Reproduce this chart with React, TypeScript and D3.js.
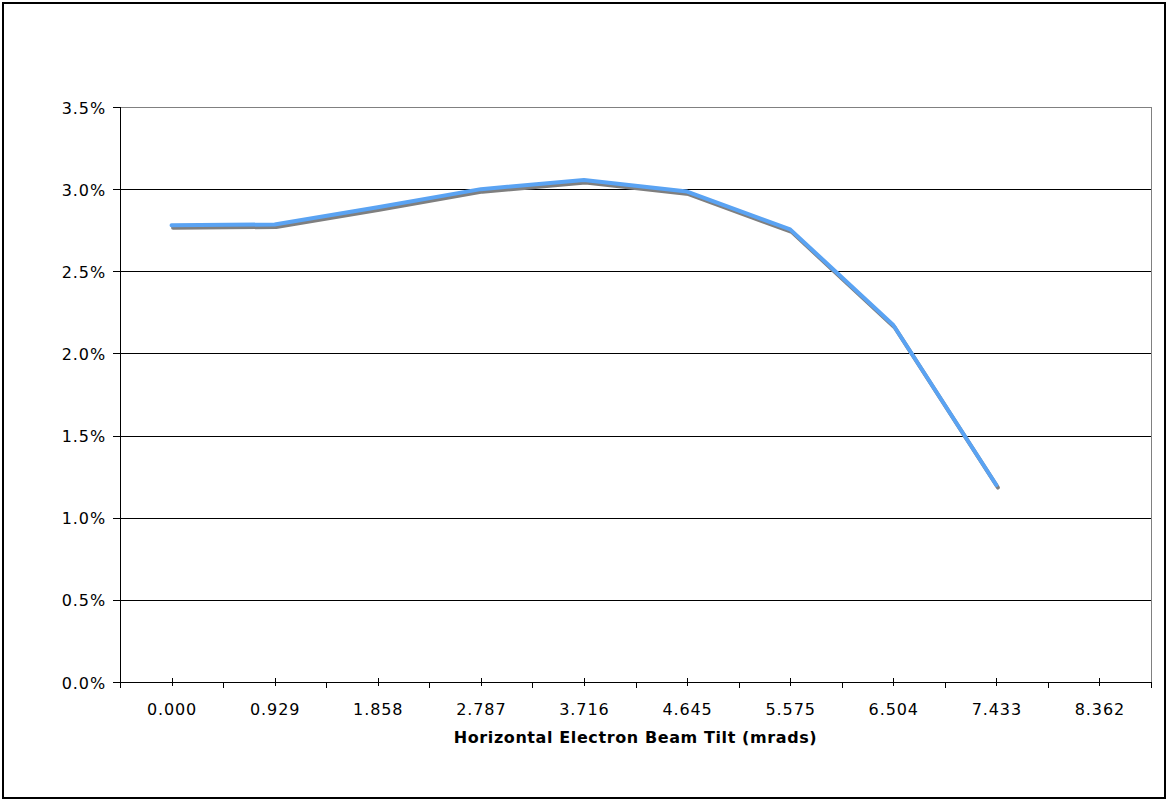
import React from "react";
import * as d3 from "d3";

const categories = ["0.000", "0.929", "1.858", "2.787", "3.716", "4.645", "5.575", "6.504", "7.433", "8.362"];
const values: (number | null)[] = [2.78, 2.785, 2.89, 3.0, 3.055, 2.985, 2.755, 2.173, 1.199, null];
const yTicks = [0, 0.5, 1.0, 1.5, 2.0, 2.5, 3.0, 3.5];
const xTitle = "Horizontal Electron Beam Tilt (mrads)";

const W = 1167;
const H = 800;
const left = 120;
const right = 1151;
const top = 107;
const bottom = 682;

export default function App() {
  const x = d3.scaleBand<string>().domain(categories).range([left, right]).padding(0);
  const y = d3.scaleLinear().domain([0, 3.5]).range([bottom, top]);
  const pts = categories
    .map((c, i) => ({ c, v: values[i] }))
    .filter((d) => d.v !== null) as { c: string; v: number }[];
  const line = d3
    .line<{ c: string; v: number }>()
    .x((d) => (x(d.c) as number) + x.bandwidth() / 2)
    .y((d) => y(d.v));
  const path = line(pts) || "";
  const font = "'DejaVu Sans', Verdana, sans-serif";
  const bounds = categories.map((c) => x(c) as number).concat([right]);
  return (
    <div style={{ position: "fixed", left: 0, top: 0 }}>
      <svg width={W} height={H} style={{ display: "block", background: "#fff" }}>
        <rect x={3} y={3} width={W - 5} height={H - 5} fill="#fff" stroke="#000" strokeWidth={2} />
        {yTicks.map((t) => (
          <g key={t}>
            {t > 0 && t < 3.5 && (
              <line x1={left} x2={right} y1={Math.round(y(t)) + 0.5} y2={Math.round(y(t)) + 0.5} stroke="#000" strokeWidth={1} />
            )}
            <line x1={left - 7} x2={left} y1={Math.round(y(t)) + 0.5} y2={Math.round(y(t)) + 0.5} stroke="#000" strokeWidth={1} />
            <text x={106} y={y(t) + 6.5} textAnchor="end" fontFamily={font} fontSize={16} letterSpacing={0.9} fill="#000">
              {t.toFixed(1) + "%"}
            </text>
          </g>
        ))}
        <line x1={left} x2={right} y1={top + 0.5} y2={top + 0.5} stroke="#808080" strokeWidth={1} />
        <line x1={right + 0.5} x2={right + 0.5} y1={top} y2={bottom} stroke="#808080" strokeWidth={1} />
        <line x1={left + 0.5} x2={left + 0.5} y1={top} y2={bottom + 1} stroke="#000" strokeWidth={1} />
        <line x1={left} x2={right + 1} y1={bottom + 0.5} y2={bottom + 0.5} stroke="#000" strokeWidth={1} />
        {bounds.map((b, i) => (
          <line key={"b" + i} x1={Math.round(b) + 0.5} x2={Math.round(b) + 0.5} y1={bottom} y2={bottom + 6} stroke="#000" />
        ))}
        {categories.map((c) => {
          const cx = (x(c) as number) + x.bandwidth() / 2;
          return (
            <g key={c}>
              <line x1={Math.round(cx) + 0.5} x2={Math.round(cx) + 0.5} y1={bottom - 4} y2={bottom + 4} stroke="#000" />
              <text x={cx + 0.5} y={715} textAnchor="middle" fontFamily={font} fontSize={16} letterSpacing={0.9} fill="#000">
                {c}
              </text>
            </g>
          );
        })}
        <text x={(left + right) / 2} y={743} textAnchor="middle" fontFamily={font} fontSize={16} fontWeight="bold" letterSpacing={0.6} fill="#000">
          {xTitle}
        </text>
        <path d={path} transform="translate(1.5,2.5)" fill="none" stroke="#7f7f7f" strokeWidth={4} strokeLinejoin="round" strokeLinecap="round" />
        <path d={path} fill="none" stroke="#5AA3F3" strokeWidth={4} strokeLinejoin="round" strokeLinecap="round" />
      </svg>
    </div>
  );
}
